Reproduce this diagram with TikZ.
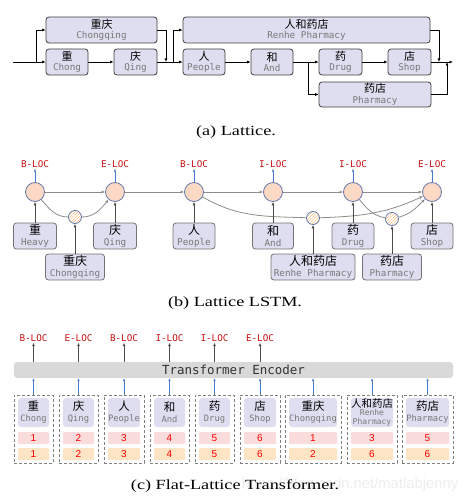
\documentclass[tikz,border=0pt]{standalone}
\usepackage{fontspec}
\setmainfont{Liberation Serif}
\setsansfont{Liberation Sans}
\setmonofont{DejaVu Sans Mono}
\newfontfamily\cnfont{Noto Sans CJK SC}
\usepackage{tikz}
\usetikzlibrary{arrows.meta,patterns}
\definecolor{lav}{RGB}{222,222,240}
\definecolor{peach}{RGB}{251,217,196}
\definecolor{cellblue}{RGB}{100,122,172}
\definecolor{tagred}{RGB}{200,16,16}
\definecolor{arrblue}{RGB}{74,123,208}
\definecolor{engray}{RGB}{120,120,120}
\definecolor{pinkpos}{RGB}{250,220,220}
\definecolor{orangepos}{RGB}{252,228,196}
\definecolor{encgray}{RGB}{217,217,217}
\newcommand{\zhtxt}[2][11]{{\cnfont\fontsize{#1}{#1}\selectfont #2}}
\newcommand{\entxt}[2][9.3]{{\ttfamily\fontsize{#1}{#1}\selectfont\color{engray}#2}}
\newcommand{\captxt}[1]{\scalebox{1.3}[1]{\fontsize{14}{16}\selectfont #1}}

\begin{document}
\begin{tikzpicture}[x=1pt,y=-1pt,
  arr/.style={-{Latex[length=3.5pt,width=3pt]},line width=0.7pt},
  garr/.style={-{Latex[length=3.5pt,width=3pt]},line width=0.8pt,draw=black!45},
  gline/.style={line width=0.8pt,draw=black!45},
  karr/.style={-{Latex[length=3.5pt,width=3pt]},line width=0.8pt,draw=black!70},
  barr/.style={-{Latex[length=3pt,width=2.5pt]},line width=0.7pt,draw=arrblue},
  latbox/.style={draw=black!75,fill=lav,rounded corners=3pt,line width=0.8pt,inner sep=0pt,
    align=center,minimum height=26pt,font=\fontsize{9}{10.5}\selectfont},
  lstmbox/.style={latbox,draw=black!55},
  cell/.style={circle,draw=cellblue,fill=peach,line width=0.8pt,minimum size=19pt,inner sep=0pt},
  wcell/.style={circle,draw=cellblue,preaction={fill=white},pattern=north east lines,
    pattern color=orange!45,line width=0.8pt,minimum size=13pt,inner sep=0pt},
  tag/.style={text=tagred,font=\ttfamily\fontsize{9.3}{10}\selectfont,inner sep=1pt},
  grp/.style={draw=black!50,dashed,dash pattern=on 3pt off 2pt,line width=0.9pt,
    minimum height=68pt,inner sep=0pt},
  tok/.style={fill=lav,rounded corners=3pt,minimum height=29pt,inner sep=0pt,align=center,
    font=\fontsize{9}{11}\selectfont},
  posbox/.style={rounded corners=1pt,minimum height=12pt,inner sep=0pt,text=red,
    font=\sffamily\fontsize{10}{10}\selectfont}]
\useasboundingbox (0,0) rectangle (470,503);

% (a) lattice
\node[latbox,minimum width=111pt] (cqA) at (101.5,30) {\zhtxt{重庆}\\\entxt{Chongqing}};
\node[latbox,minimum width=42pt] (chA) at (67,62) {\zhtxt{重}\\\entxt{Chong}};
\node[latbox,minimum width=43pt] (qgA) at (135.5,62) {\zhtxt{庆}\\\entxt{Qing}};
\node[latbox,minimum width=247pt] (rhA) at (306.5,30) {\zhtxt{人和药店}\\\entxt{Renhe Pharmacy}};
\node[latbox,minimum width=42pt] (peA) at (204,62) {\zhtxt{人}\\\entxt{People}};
\node[latbox,minimum width=42pt] (anA) at (272,62) {\zhtxt{和}\\\entxt{And}};
\node[latbox,minimum width=43pt] (drA) at (340.5,62) {\zhtxt{药}\\\entxt{Drug}};
\node[latbox,minimum width=43pt] (shA) at (409.5,62) {\zhtxt{店}\\\entxt{Shop}};
\node[latbox,minimum width=112pt,minimum height=25pt] (phA) at (375,94.5) {\zhtxt{药店}\\\entxt{Pharmacy}};
\coordinate (in) at (13,62);
\coordinate (s1) at (36,62);
\coordinate (m1) at (166,62);
\coordinate (s2) at (173,62);
\coordinate (s3) at (308,62);
\coordinate (m2) at (439,62);
\coordinate (m3) at (447,62);
\coordinate (out) at (453,62);
\draw[line width=0.7pt] (in) -- (s1);
\draw[arr] (s1) -- (chA);
\draw[arr] (s1) |- (cqA);
\draw[arr] (chA) -- (qgA);
\draw[arr] (cqA) -| (m1);
\draw[line width=0.7pt] (qgA) -- (s2);
\draw[arr] (s2) |- (rhA);
\draw[arr] (s2) -- (peA);
\draw[arr] (peA) -- (anA);
\draw[line width=0.7pt] (anA) -- (s3);
\draw[arr] (s3) -- (drA);
\draw[arr] (s3) |- (phA);
\draw[arr] (drA) -- (shA);
\draw[arr] (rhA) -| (m2);
\draw[arr] (phA) -| (m3);
\draw[arr] (shA) -- (out);
\node (capa) at (236,132) {\captxt{(a) Lattice.}};

% (b) lattice LSTM
\foreach \x/\tg [count=\i] in {35/B-LOC,115/E-LOC,194/B-LOC,273/I-LOC,353/I-LOC,432/E-LOC} {
  \node[cell] (h\i) at (\x,192) {};
  \node[tag] (t\i) at (\x,164) {\tg};
  \draw[barr] (h\i) -- (t\i);
}
\foreach \i/\j in {1/2,2/3,3/4,4/5,5/6}
  \draw[garr] (h\i) -- (h\j);
\node[wcell] (w1) at (75,217) {};
\node[wcell] (w2) at (313,218) {};
\node[wcell] (w3) at (392,219) {};
\draw[gline] (h1) to[out=-50,in=180] (w1);
\draw[garr] (w1) to[out=0,in=-130] (h2);
\draw[gline] (h3) to[out=-30,in=178] (w2);
\draw[garr] (w2) to[out=2,in=-155] (h6);
\draw[gline] (h5) to[out=-50,in=170] (w3);
\draw[garr] (w3) to[out=15,in=-135] (h6);
\node[lstmbox,minimum width=43pt] (heB) at (35,236) {\zhtxt[12]{重}\\\entxt{Heavy}};
\node[lstmbox,minimum width=59pt] (cqB) at (75,267) {\zhtxt[12]{重庆}\\\entxt{Chongqing}};
\node[lstmbox,minimum width=43pt] (qgB) at (115,236) {\zhtxt[12]{庆}\\\entxt{Qing}};
\node[lstmbox,minimum width=42pt] (peB) at (194,236) {\zhtxt[12]{人}\\\entxt{People}};
\node[lstmbox,minimum width=41pt] (anB) at (273,236) {\zhtxt[12]{和}\\\entxt{And}};
\node[lstmbox,minimum width=84pt] (rhB) at (313,267) {\zhtxt[12]{人和药店}\\\entxt{Renhe Pharmacy}};
\node[lstmbox,minimum width=42pt] (drB) at (353,236) {\zhtxt[12]{药}\\\entxt{Drug}};
\node[lstmbox,minimum width=59pt] (phB) at (392,267) {\zhtxt[12]{药店}\\\entxt{Pharmacy}};
\node[lstmbox,minimum width=42pt] (shB) at (432,236) {\zhtxt[12]{店}\\\entxt{Shop}};
\draw[karr] (heB) -- (h1);
\draw[karr] (cqB) -- (w1);
\draw[karr] (qgB) -- (h2);
\draw[karr] (peB) -- (h3);
\draw[karr] (anB) -- (h4);
\draw[karr] (rhB) -- (w2);
\draw[karr] (drB) -- (h5);
\draw[karr] (phB) -- (w3);
\draw[karr] (shB) -- (h6);
\node (capb) at (235,303) {\captxt{(b) Lattice LSTM.}};

% (c) flat-lattice transformer
\node[fill=encgray,rounded corners=3pt,minimum width=439pt,minimum height=16pt,inner sep=0pt,
  font=\ttfamily\fontsize{12.5}{13}\selectfont,text=black!80] (enc) at (233.5,370) {Transformer Encoder};
\foreach \gX/\gW/\gZ/\gE/\gH/\gT [count=\i] in {33.5/39/重/Chong/1/1,78.5/39/庆/Qing/2/2,
    124/40/人/People/3/3,169.5/39/和/And/4/4,214.5/39/药/Drug/5/5,260/40/店/Shop/6/6,
    313/56/重庆/Chongqing/1/2,
    372/50/{\fontsize{10.5}{10.5}\selectfont 人和药店}/{\fontsize{8}{8}\selectfont\shortstack{Renhe\\Pharmacy}}/3/6,
    427.5/51/药店/Pharmacy/5/6} {
  \node[grp,minimum width=\gW pt] (g\i) at (\gX,429) {};
  \node[tok,minimum width={(\gW-8)*1pt}] (k\i) at (\gX,412.5) {\zhtxt[11.5]{\gZ}\\\entxt[8.8]{\gE}};
  \node[posbox,fill=pinkpos,minimum width={(\gW-8)*1pt}] (p\i) at (\gX,438) {\gH};
  \node[posbox,fill=orangepos,minimum width={(\gW-8)*1pt}] (q\i) at (\gX,454) {\gT};
  \draw[barr] (g\i) -- (enc.south -| g\i);
}
\foreach \i/\tg in {1/B-LOC,2/E-LOC,3/B-LOC,4/I-LOC,5/I-LOC,6/E-LOC} {
  \node[tag] (u\i) at (g\i |- 0,338) {\tg};
  \draw[karr] (enc.north -| g\i) -- (u\i);
}
\node[text=black!7,font=\sffamily\fontsize{14.8}{15}\selectfont] (wm) at (350,485) {https://blog.csdn.net/matlabjenny};
\node (capc) at (235,486) {\captxt{(c) Flat-Lattice Transformer.}};
\end{tikzpicture}
\end{document}
